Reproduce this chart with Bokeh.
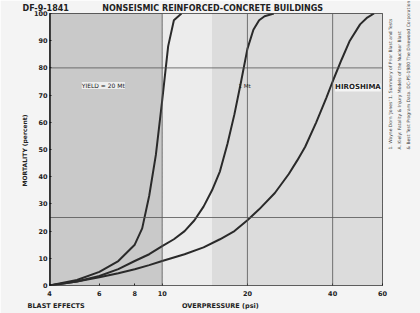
import math
from bokeh.plotting import figure
from bokeh.models import Label, BoxAnnotation, FixedTicker, Span, Title, LinearAxis
from bokeh.embed import file_html
from bokeh.resources import INLINE

# --- data ---
x_ticks = [4, 6, 8, 10, 20, 40, 60]
y_ticks = [0, 10, 20, 30, 40, 50, 60, 70, 80, 90, 100]

curve1_x = [4, 5, 6, 7, 8, 8.5, 9, 9.5, 10, 10.5, 11, 11.7]
curve1_y = [0, 2, 5, 9, 15, 21, 33, 48, 68, 88, 97.5, 100]

curve2_x = [4, 5, 6, 7, 8, 9, 10, 11, 12, 13, 14, 15, 16, 17, 18, 19, 20, 21, 22, 23, 24.8]
curve2_y = [0, 1.5, 3.5, 6, 9, 11.5, 14.5, 17, 20, 24, 29, 35, 42, 52, 63, 75, 87, 94, 97.5, 99, 100]

curve3_x = [4, 5, 6, 7, 8, 9, 10, 12, 14, 16, 18, 20, 22, 25, 28, 30, 32, 35, 38, 40, 43, 46, 50, 53, 56]
curve3_y = [0, 1.5, 3, 4.5, 6, 7.5, 9, 11.5, 14, 17, 20, 24, 28, 34, 41, 46, 51, 60, 69, 75, 83, 90, 96, 98.5, 100]

title_text = "NONSEISMIC REINFORCED-CONCRETE BUILDINGS"
doc_code = "DF-9-1841"
footer_left = "BLAST EFFECTS"
x_label = "OVERPRESSURE  (psi)"
y_label = "MORTALITY  (percent)"
label_yield = "YIELD = 20 Mt"
label_mid = "1 Mt"
label_hiro = "HIROSHIMA"
source_lines = [
    "1. Wayne Dorn 'Jones' 1. Summary of Prior Blast and Tests",
    "A. Kiely: Fatality & Injury Models of the Nuclear Blast",
    "& Best Test Program Data. DC-PS-1980 The Dikewood Corporation",
]

FONT = "DejaVu Sans"
INK = "#222222"
NB = "\u00a0"

p = figure(width=420, height=313, x_axis_type="log", x_range=(4, 60), y_range=(0, 100),
           output_backend="svg", toolbar_location=None,
           min_border_left=49, min_border_right=38, min_border_top=13, min_border_bottom=28)
p.background_fill_color = "#d9d9d9"
p.border_fill_color = "#f4f4f4"
p.outline_line_color = "#333333"
p.outline_line_width = 1

# title line (doc code + title)
p.title.text = doc_code + NB * 12 + title_text
p.title.align = "left"
p.title.offset = -27
p.title.text_font = FONT
p.title.text_font_style = "bold"
p.title.text_font_size = "8px"
p.title.text_color = INK
p.title.standoff = 2

# shading bands
p.add_layout(BoxAnnotation(left=4, right=10, fill_color="#c9c9c9", fill_alpha=1.0, line_alpha=0, level="underlay"))
p.add_layout(BoxAnnotation(left=10, right=15, fill_color="#ececec", fill_alpha=1.0, line_alpha=0, level="underlay"))
p.add_layout(BoxAnnotation(left=15, right=60, fill_color="#dcdcdc", fill_alpha=1.0, line_alpha=0, level="underlay"))

# axes
p.xaxis.ticker = FixedTicker(ticks=x_ticks)
p.xaxis.major_label_overrides = {t: str(t) for t in x_ticks}
p.yaxis.ticker = FixedTicker(ticks=y_ticks)
for ax in (p.xaxis, p.yaxis):
    ax.major_label_text_font = FONT
    ax.major_label_text_font_style = "bold"
    ax.major_label_text_font_size = "6.5px"
    ax.major_label_text_color = INK
    ax.axis_label_text_font = FONT
    ax.axis_label_text_font_style = "bold"
    ax.axis_label_text_font_size = "6px"
    ax.axis_label_text_color = INK
    ax.axis_line_color = None
    ax.major_tick_line_color = INK
    ax.major_tick_in = 2
    ax.major_tick_out = 0
    ax.minor_tick_line_color = None
p.xaxis.major_label_standoff = 5
p.yaxis.axis_label = y_label
p.yaxis.axis_label_standoff = 3
p.yaxis.major_label_standoff = 2

# footer line below: "BLAST EFFECTS" and the x-axis title on one row
foot = Title(text=footer_left + NB * 43 + x_label, align="left", offset=-22, text_font=FONT,
             text_font_style="bold", text_font_size="6.5px", text_color=INK, standoff=2)
p.add_layout(foot, "below")

# rotated source notes on the right (as label-only axes)
for i, line in enumerate(source_lines):
    ax = LinearAxis(ticker=FixedTicker(ticks=[]), axis_label=line,
                    axis_line_color=None, major_tick_line_color=None, minor_tick_line_color=None,
                    major_label_text_font_size="0px", major_label_standoff=0,
                    axis_label_text_font=FONT, axis_label_text_font_size="4.5px",
                    axis_label_text_color="#444444", axis_label_text_font_style="normal",
                    axis_label_standoff=(8 if i == 0 else 1),
                    axis_label_orientation=math.pi / 2)
    p.add_layout(ax, "right")

p.xgrid.grid_line_color = "#555555"
p.xgrid.grid_line_dash = "1 3"
p.xgrid.grid_line_alpha = 0.8
p.ygrid.grid_line_color = "#555555"
p.ygrid.grid_line_dash = "1 3"
p.ygrid.grid_line_alpha = 0.8

# stronger rules
for v in (10, 20, 40):
    p.add_layout(Span(location=v, dimension="height", line_color="#555555", line_width=1, line_alpha=0.8))
for v in (80, 25):
    p.add_layout(Span(location=v, dimension="width", line_color="#555555", line_width=1, line_alpha=0.8))
p.add_layout(Span(location=4, dimension="height", line_color="#111111", line_width=2.5))

# curves
for cx, cy in ((curve1_x, curve1_y), (curve2_x, curve2_y), (curve3_x, curve3_y)):
    p.line(cx, cy, line_color="#2a2a2a", line_width=2)

# in-plot labels
p.add_layout(Label(x=5.2, y=73.5, text=label_yield, text_font=FONT, text_font_size="6px",
                   text_color=INK, text_baseline="middle", background_fill_color="#f2f2f2",
                   background_fill_alpha=0.9))
p.add_layout(Label(x=18.6, y=73.5, text=label_mid, text_font=FONT, text_font_size="5.5px",
                   text_color=INK, text_baseline="middle"))
p.add_layout(Label(x=40.8, y=72.8, text=label_hiro, text_font=FONT, text_font_style="bold",
                   text_font_size="7px", text_color=INK, text_baseline="middle",
                   background_fill_color="#f4f4f4", background_fill_alpha=0.95))

open("out.html", "w").write(file_html(p, INLINE))
